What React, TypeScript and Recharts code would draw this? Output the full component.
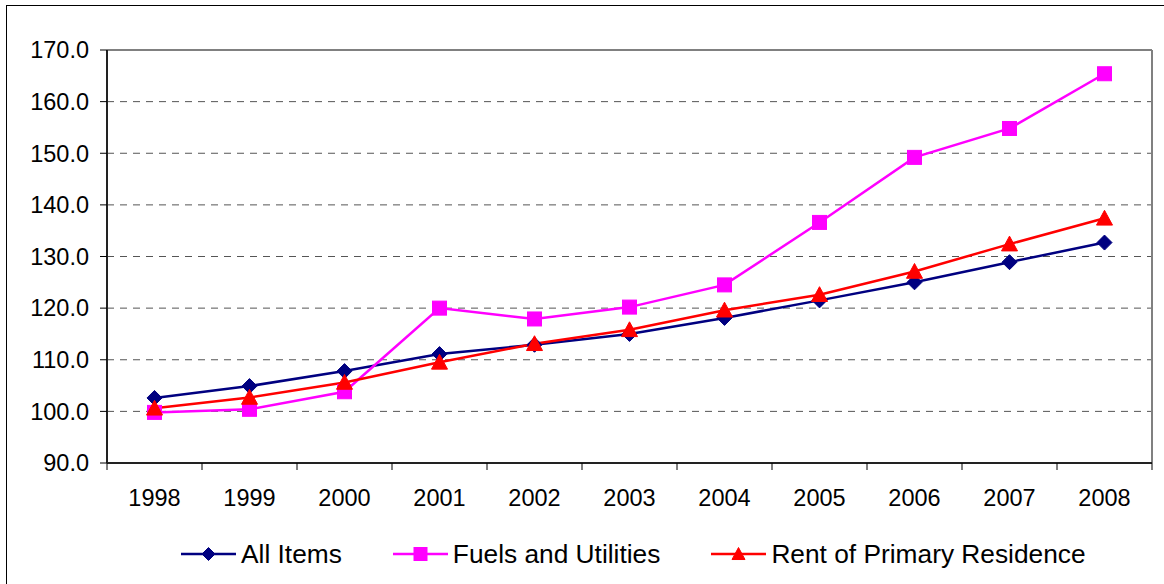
import React from "react";
import { LineChart, Line, XAxis, YAxis, CartesianGrid, ReferenceLine } from "recharts";

const years = ["1998", "1999", "2000", "2001", "2002", "2003", "2004", "2005", "2006", "2007", "2008"];
const allItems = [102.6, 104.9, 107.8, 111.1, 112.9, 115.0, 118.1, 121.5, 125.0, 128.9, 132.7];
const fuelsUtilities = [99.8, 100.4, 103.8, 120.0, 117.9, 120.2, 124.5, 136.6, 149.2, 154.8, 165.4];
const rentPrimary = [100.6, 102.7, 105.6, 109.5, 113.1, 115.8, 119.6, 122.6, 127.1, 132.4, 137.4];
const yTicks = [90, 100, 110, 120, 130, 140, 150, 160, 170];

const NAVY = "#000080";
const MAGENTA = "#FF00FF";
const RED = "#FF0000";
const FONT = '"Liberation Sans", Arial, sans-serif';

const data = years.map((y, i) => ({
  x: i,
  year: y,
  all: allItems[i],
  fuels: fuelsUtilities[i],
  rent: rentPrimary[i],
}));

// labels sit on whole numbers, tick marks between categories
const xTicks: number[] = [];
for (let i = 0; i <= years.length; i++) {
  xTicks.push(i - 0.5);
  if (i < years.length) xTicks.push(i);
}

function Diamond({ cx, cy, r = 7.5, color }: any) {
  if (cx == null || cy == null) return null;
  return (
    <path d={`M${cx},${cy - r}L${cx + r},${cy}L${cx},${cy + r}L${cx - r},${cy}Z`} fill={color} stroke={color} strokeWidth={1} />
  );
}

function Square({ cx, cy, r = 7, color }: any) {
  if (cx == null || cy == null) return null;
  return <rect x={cx - r} y={cy - r} width={r * 2} height={r * 2} fill={color} stroke={color} strokeWidth={1} />;
}

function Triangle({ cx, cy, r = 8, color }: any) {
  if (cx == null || cy == null) return null;
  return (
    <path d={`M${cx},${cy - r}L${cx + r},${cy + r * 0.85}L${cx - r},${cy + r * 0.85}Z`} fill={color} stroke={color} strokeWidth={1} />
  );
}

function XTick({ x, y, payload }: any) {
  const v = payload.value;
  if (Number.isInteger(v)) {
    return (
      <text x={x} y={y + 43} textAnchor="middle" fontSize={23.5} fontFamily={FONT} fill="#000">
        {years[v]}
      </text>
    );
  }
  return <line x1={x} x2={x} y1={y} y2={y + 7} stroke="#000" strokeWidth={1} />;
}

const legendItems = [
  { name: "All Items", color: NAVY, Shape: Diamond },
  { name: "Fuels and Utilities", color: MAGENTA, Shape: Square },
  { name: "Rent of Primary Residence", color: RED, Shape: Triangle },
];

function ChartLegend() {
  return (
    <div
      style={{
        position: "absolute",
        left: 181,
        top: 538,
        display: "flex",
        alignItems: "center",
        height: 32,
        fontFamily: FONT,
        fontSize: 26.3,
        color: "#000",
      }}
    >
      {legendItems.map((it, i) => (
        <div key={it.name} style={{ display: "flex", alignItems: "center", marginLeft: i === 0 ? 0 : 51 }}>
          <svg width={55} height={20} style={{ display: "block" }}>
            <line x1={0} x2={55} y1={10} y2={10} stroke={it.color} strokeWidth={2.5} />
            <it.Shape cx={27.5} cy={10} r={6.5} color={it.color} />
          </svg>
          <span style={{ marginLeft: 5, lineHeight: "32px", whiteSpace: "nowrap" }}>{it.name}</span>
        </div>
      ))}
    </div>
  );
}

export default function App() {
  return (
    <div style={{ position: "fixed", left: 0, top: 0, width: 1164, height: 584, overflow: "hidden", background: "#fff" }}>
      <div
        style={{
          position: "absolute",
          left: 6,
          top: 5,
          width: 1170,
          height: 590,
          border: "1px solid #000",
          boxSizing: "border-box",
        }}
      />
      <div style={{ position: "absolute", left: 0, top: 0 }}>
        <LineChart width={1164} height={584} data={data} margin={{ top: 50, right: 12, bottom: 61, left: 7 }}>
          <CartesianGrid vertical={false} stroke="#555" strokeDasharray="7 6" />
          <XAxis
            dataKey="x"
            type="number"
            domain={[-0.5, 10.5]}
            ticks={xTicks}
            interval={0}
            height={60}
            tick={<XTick />}
            tickLine={false}
            tickSize={0}
            tickMargin={0}
            axisLine={{ stroke: "#222", strokeWidth: 2 }}
          />
          <YAxis
            type="number"
            domain={[90, 170]}
            ticks={yTicks}
            interval={0}
            width={100}
            tickFormatter={(v: number) => v.toFixed(1)}
            tick={{ fontSize: 23.5, fill: "#000", fontFamily: FONT }}
            tickSize={7}
            tickMargin={11}
            tickLine={{ stroke: "#000", strokeWidth: 1 }}
            axisLine={{ stroke: "#222", strokeWidth: 2 }}
          />
          <ReferenceLine y={170} stroke="#808080" strokeWidth={2} />
          <ReferenceLine x={10.5} stroke="#808080" strokeWidth={2} />
          <Line
            dataKey="all"
            stroke={NAVY}
            strokeWidth={2.5}
            isAnimationActive={false}
            dot={(p: any) => <Diamond key={`a${p.index}`} cx={p.cx} cy={p.cy} color={NAVY} />}
          />
          <Line
            dataKey="fuels"
            stroke={MAGENTA}
            strokeWidth={2.5}
            isAnimationActive={false}
            dot={(p: any) => <Square key={`f${p.index}`} cx={p.cx} cy={p.cy} color={MAGENTA} />}
          />
          <Line
            dataKey="rent"
            stroke={RED}
            strokeWidth={2.5}
            isAnimationActive={false}
            dot={(p: any) => <Triangle key={`r${p.index}`} cx={p.cx} cy={p.cy} color={RED} />}
          />
        </LineChart>
      </div>
      <ChartLegend />
    </div>
  );
}
